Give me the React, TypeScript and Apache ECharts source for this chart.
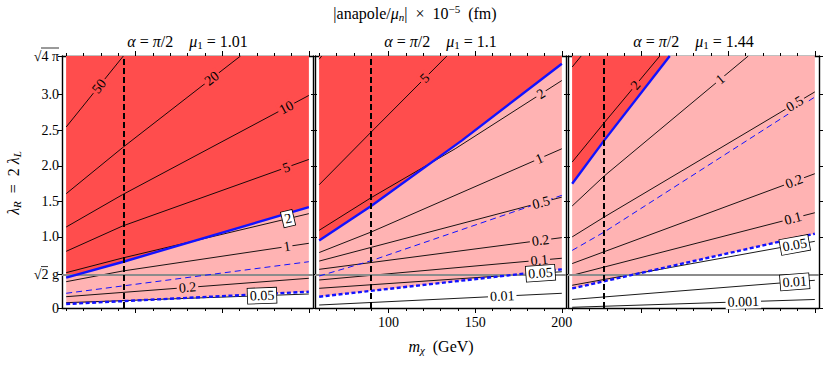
import React, { useEffect, useRef } from 'react';
import * as echarts from 'echarts';

type Pt = [number, number];

const SERIF = "'Liberation Serif', 'Times New Roman', 'DejaVu Serif', serif";
const RED = '#ff4d4d';
const PINK = '#ffb3b3';
const BLUE = '#1212ff';
const GRAY = '#8c8c8c';

// ---- axes ----
const X_MIN = 57.6;
const X_MAX = 202.4;
const Y_MAX = Math.sqrt(4 * Math.PI);
const G_LINE = 0.47; // sqrt(2) g
const xMinorTicks = [60, 70, 80, 90, 100, 110, 120, 130, 140, 150, 160, 170, 180, 190, 200];
const xMajorTicks = [100, 150, 200];
const yTicks = [0, G_LINE, 1, 1.5, 2, 2.5, 3, Y_MAX];
const yTickLabels = ['0', '√2 g', '1.0', '1.5', '2.0', '2.5', '3.0', '√4 π'];

const muValues = ['1.01', '1.1', '1.44'];
const dashedX = [93, 90, 78.5];

// ---- panel 1 (mu1 = 1.01) ----
const p1_c50: Pt[] = [[60, 2.546], [93, 3.545]];
const p1_c20: Pt[] = [[60, 1.608], [92.5, 2.255], [160.6, 3.545]];
const p1_c10: Pt[] = [[60, 1.139], [92.5, 1.594], [200, 2.99]];
const p1_c5: Pt[] = [[60, 0.797], [92.5, 1.153], [200, 2.09]];
const p1_c2: Pt[] = [[60, 0.497], [92.5, 0.703], [200, 1.327]];
const p1_c1: Pt[] = [[60, 0.37], [92.5, 0.52], [200, 0.91]];
const p1_c02: Pt[] = [[60, 0.159], [200, 0.418]];
const p1_c005: Pt[] = [[60, 0.075], [200, 0.197]];
const p1_blue: Pt[] = [[60, 0.426], [92.5, 0.647], [200, 1.42]];
const p1_bdash: Pt[] = [[60, 0.207], [200, 0.651]];
const p1_bdot: Pt[] = [[60, 0.056], [200, 0.229]];

// ---- panel 2 (mu1 = 1.1) ----
const p2_c10: Pt[] = [[60, 3.5], [61.5, 3.545]];
const p2_c5: Pt[] = [[60, 1.734], [90, 2.475], [133.7, 3.545]];
const p2_c2: Pt[] = [[60, 1.093], [90, 1.552], [138.5, 2.24], [200, 3.2]];
const p2_c1: Pt[] = [[60, 0.78], [90, 1.069], [200, 2.24]];
const p2_c05: Pt[] = [[60, 0.66], [200, 1.56]];
const p2_c02: Pt[] = [[60, 0.544], [200, 0.99]];
const p2_c01: Pt[] = [[60, 0.394], [200, 0.7]];
const p2_c005: Pt[] = [[60, 0.277], [200, 0.51]];
const p2_c001: Pt[] = [[60, 0.042], [200, 0.207]];
const p2_blue: Pt[] = [[60, 0.95], [90, 1.435], [142.4, 2.358], [200, 3.436]];
const p2_bdash: Pt[] = [[60, 0.45], [90, 0.665], [200, 1.585]];
const p2_bdot: Pt[] = [[60, 0.159], [200, 0.544]];

// ---- panel 3 (mu1 = 1.44) ----
const p3_c5: Pt[] = [[60, 3.39], [65.2, 3.545]];
const p3_c2: Pt[] = [[60, 2.053], [78.5, 2.606], [110.6, 3.545]];
const p3_c1: Pt[] = [[60, 1.435], [78.5, 1.857], [161.6, 3.545]];
const p3_c05: Pt[] = [[60, 1.0], [78.5, 1.28], [200, 3.04]];
const p3_c02: Pt[] = [[60, 0.625], [200, 1.889]];
const p3_c01: Pt[] = [[60, 0.46], [200, 1.34]];
const p3_c005: Pt[] = [[60, 0.32], [200, 0.938]];
const p3_c001: Pt[] = [[60, 0.12], [200, 0.39]];
const p3_c0001: Pt[] = [[60, 0.01], [200, 0.12]];
const p3_blue: Pt[] = [[60, 1.748], [78.5, 2.358], [116.3, 3.545]];
const p3_bdash: Pt[] = [[60, 0.81], [78.5, 1.069], [200, 2.968]];
const p3_bdot: Pt[] = [[60, 0.275], [200, 1.045]];

// contour label: [x, text, contour, boxed]
type Lab = [number, string, Pt[], boolean];
const p1_labels: Lab[] = [
  [79, '50', p1_c50, false], [144, '20', p1_c20, false], [187, '10', p1_c10, false],
  [187, '5', p1_c5, false], [188, '2', p1_c2, true], [187.4, '1', p1_c1, false],
  [130, '0.2', p1_c02, false], [173, '0.05', p1_c005, true],
];
const p2_labels: Lab[] = [
  [121, '5', p2_c5, false], [188, '2', p2_c2, false], [187, '1', p2_c1, false],
  [188, '0.5', p2_c05, false], [187.7, '0.2', p2_c02, false], [187, '0.1', p2_c01, false],
  [187.7, '0.05', p2_c005, true], [165.6, '0.01', p2_c001, false],
];
const p3_labels: Lab[] = [
  [96.6, '2', p3_c2, false], [145.4, '1', p3_c1, false], [188.4, '0.5', p3_c05, false],
  [188, '0.2', p3_c02, false], [187.4, '0.1', p3_c01, false], [188.4, '0.05', p3_c005, true],
  [188.4, '0.01', p3_c001, true], [158.7, '0.001', p3_c0001, false],
];

const panels = [
  { black: [p1_c50, p1_c20, p1_c10, p1_c5, p1_c2, p1_c1, p1_c02, p1_c005], blue: p1_blue, bdash: p1_bdash, bdot: p1_bdot, labels: p1_labels },
  { black: [p2_c10, p2_c5, p2_c2, p2_c1, p2_c05, p2_c02, p2_c01, p2_c005, p2_c001], blue: p2_blue, bdash: p2_bdash, bdot: p2_bdot, labels: p2_labels },
  { black: [p3_c5, p3_c2, p3_c1, p3_c05, p3_c02, p3_c01, p3_c005, p3_c001, p3_c0001], blue: p3_blue, bdash: p3_bdash, bdot: p3_bdot, labels: p3_labels },
];

// ---- layout ----
const GRID_LEFTS = [62, 315, 568];
const GRID_TOP = 56;
const GRID_W = 251;
const GRID_H = 252;
const PX_X = GRID_W / (X_MAX - X_MIN);
const PX_Y = GRID_H / Y_MAX;

function segAt(line: Pt[], x: number): [Pt, Pt] | null {
  for (let k = 0; k < line.length - 1; k++) {
    if (x >= line[k][0] && x <= line[k + 1][0]) return [line[k], line[k + 1]];
  }
  return null;
}
function interp(line: Pt[], x: number): number | null {
  const s = segAt(line, x);
  if (!s) return null;
  const [[x0, y0], [x1, y1]] = s;
  return y0 + ((y1 - y0) * (x - x0)) / (x1 - x0);
}
function angleAt(line: Pt[], x: number): number {
  const s = segAt(line, x);
  if (!s) return 0;
  const [[x0, y0], [x1, y1]] = s;
  const slope = (y1 - y0) / (x1 - x0);
  return (Math.atan((slope * PX_Y) / PX_X) * 180) / Math.PI;
}

const richBase = (size: number) => ({
  i: { fontFamily: SERIF, fontSize: size, fontStyle: 'italic', fill: '#000' },
  sub: { fontFamily: SERIF, fontSize: size - 5, padding: [8, 0, 0, 0], fill: '#000' },
  si: { fontFamily: SERIF, fontSize: size - 5, fontStyle: 'italic', padding: [8, 0, 0, 0], fill: '#000' },
  sup: { fontFamily: SERIF, fontSize: size - 5, padding: [0, 0, 8, 0], fill: '#000' },
});

const SP = '\u00A0';
const EN = '\u2002';

function buildOption(): any {
  const grid: any[] = [];
  const xAxis: any[] = [];
  const yAxis: any[] = [];
  const series: any[] = [];
  const axisLine = { show: true, lineStyle: { color: '#000', width: 1.4 } };
  const tickLine = { color: '#000', width: 1 };

  panels.forEach((p, i) => {
    grid.push({ left: GRID_LEFTS[i], top: GRID_TOP, width: GRID_W, height: GRID_H, containLabel: false });
    const baseX = { gridIndex: i, type: 'value', min: X_MIN, max: X_MAX, splitLine: { show: false } };
    xAxis.push({ ...baseX, position: 'bottom', axisLine, axisTick: { show: true, length: 3, customValues: xMinorTicks, lineStyle: tickLine }, axisLabel: { show: false } });
    xAxis.push({
      ...baseX, position: 'bottom', axisLine: { show: false },
      axisTick: { show: true, length: 5, customValues: xMajorTicks, lineStyle: tickLine },
      axisLabel: { show: i === 1, customValues: xMajorTicks, fontFamily: SERIF, fontSize: 14, color: '#000', margin: 7 },
    });
    xAxis.push({ ...baseX, position: 'top', axisLine, axisTick: { show: true, length: 3, customValues: xMinorTicks, lineStyle: tickLine }, axisLabel: { show: false } });
    xAxis.push({ ...baseX, position: 'top', axisLine: { show: false }, axisTick: { show: true, length: 5, customValues: xMajorTicks, lineStyle: tickLine }, axisLabel: { show: false } });

    const baseY = { gridIndex: i, type: 'value', min: 0, max: Y_MAX, splitLine: { show: false }, axisLine };
    yAxis.push({
      ...baseY, position: 'left',
      axisTick: { show: true, length: 4, customValues: yTicks, lineStyle: tickLine },
      axisLabel: {
        show: i === 0, customValues: yTicks, fontFamily: SERIF, fontSize: 14, color: '#000', margin: 3,
        formatter: (v: number) => {
          const k = yTicks.findIndex((t) => Math.abs(t - v) < 1e-6);
          return k >= 0 ? yTickLabels[k] : '';
        },
      },
    });
    yAxis.push({ ...baseY, position: 'right', axisTick: { show: true, length: 4, customValues: yTicks, lineStyle: tickLine }, axisLabel: { show: false } });

    const xi = 4 * i;
    const yi = 2 * i;
    const common = { xAxisIndex: xi, yAxisIndex: yi, showSymbol: false, symbol: 'none', silent: true, animation: false };

    // fills
    series.push({ ...common, type: 'line', data: p.bdot, z: 1, lineStyle: { width: 0, opacity: 0 }, areaStyle: { color: PINK, opacity: 1, origin: 'end' } });
    series.push({ ...common, type: 'line', data: p.blue, z: 1, lineStyle: { width: 0, opacity: 0 }, areaStyle: { color: RED, opacity: 1, origin: 'end' } });

    // black contours
    p.black.forEach((line) => {
      series.push({ ...common, type: 'line', data: line, z: 2, lineStyle: { color: '#000', width: 0.9 } });
    });

    // gray sqrt(2) g line
    series.push({
      ...common, type: 'line', data: [], z: 3,
      markLine: { silent: true, symbol: ['none', 'none'], z: 3, label: { show: false }, animation: false,
        data: [{ yAxis: G_LINE, lineStyle: { color: GRAY, width: 2, type: 'solid' } }] },
    });

    // blue lines
    series.push({ ...common, type: 'line', data: p.bdash, z: 4, lineStyle: { color: BLUE, width: 1, type: [6, 4] } });
    series.push({ ...common, type: 'line', data: p.bdot, z: 4, lineStyle: { color: BLUE, width: 2.4, type: [4, 2.5] } });
    series.push({ ...common, type: 'line', data: p.blue, z: 4, lineStyle: { color: BLUE, width: 2.4 } });

    // dashed vertical
    series.push({
      ...common, type: 'line', data: [], z: 5,
      markLine: { silent: true, symbol: ['none', 'none'], z: 5, label: { show: false }, animation: false,
        data: [{ xAxis: dashedX[i], lineStyle: { color: '#000', width: 2, type: [6, 3] } }] },
    });

    // contour labels
    const labData = p.labels.map(([x, text, line, boxed]) => {
      const v = interp(line, x) as number;
      const bv = interp(p.blue, x);
      const dv = interp(p.bdot, x);
      let bg = '#ffffff';
      if (bv !== null && v > bv) bg = RED;
      else if (dv !== null && v > dv) bg = PINK;
      return {
        value: [x, v],
        label: {
          show: true, formatter: text, rotate: angleAt(line, x), position: 'inside',
          fontFamily: SERIF, fontSize: 14, color: '#000', opacity: 1,
          backgroundColor: boxed ? '#ffffff' : bg,
          borderColor: boxed ? '#000' : bg, borderWidth: boxed ? 0.8 : 0,
          padding: boxed ? [1, 2, 0, 2] : [0, 2, 0, 2],
        },
      };
    });
    series.push({
      type: 'scatter', xAxisIndex: xi, yAxisIndex: yi, z: 6, silent: true, symbolSize: 1,
      itemStyle: { color: 'rgba(0,0,0,0)' }, data: labData, animation: false,
      labelLayout: { hideOverlap: false },
    });
  });

  const texts: any[] = [];
  const big = 16;
  // main title
  texts.push({
    type: 'text', x: 415, y: 13, z: 10,
    style: { text: `|anapole/{i|μ}{si|n}|${EN}×${EN}10{sup|−5}${EN}(fm)`, fontFamily: SERIF, fontSize: big, fill: '#000', align: 'center', verticalAlign: 'middle', rich: richBase(big) },
  });
  // subtitles
  muValues.forEach((mu, i) => {
    texts.push({
      type: 'text', x: GRID_LEFTS[i] + GRID_W / 2, y: 41, z: 10,
      style: { text: `{i|α}${SP}=${SP}{i|π}/2${EN}${EN}{i|μ}{sub|1}${SP}=${SP}${mu}`, fontFamily: SERIF, fontSize: big, fill: '#000', align: 'center', verticalAlign: 'middle', rich: richBase(big) },
    });
  });
  // x axis name
  texts.push({
    type: 'text', x: 441, y: 346, z: 10,
    style: { text: `{i|m}{si|χ}${EN}(GeV)`, fontFamily: SERIF, fontSize: big, fill: '#000', align: 'center', verticalAlign: 'middle', rich: richBase(big) },
  });
  // y axis name
  texts.push({
    type: 'text', x: 13, y: 183, rotation: Math.PI / 2, z: 10,
    style: { text: `{i|λ}{si|R}${EN}=${EN}2${SP}{i|λ}{si|L}`, fontFamily: SERIF, fontSize: big, fill: '#000', align: 'center', verticalAlign: 'middle', rich: richBase(big) },
  });
  // radical overlines on tick labels
  const yTop = GRID_TOP;
  const yG = GRID_TOP + GRID_H - G_LINE * PX_Y;
  texts.push({ type: 'line', z: 10, shape: { x1: 41, y1: yTop - 8, x2: 59, y2: yTop - 8 }, style: { stroke: '#000', lineWidth: 0.8 } });
  texts.push({ type: 'line', z: 10, shape: { x1: 41, y1: yG - 8, x2: 48, y2: yG - 8 }, style: { stroke: '#000', lineWidth: 0.8 } });

  return { animation: false, backgroundColor: '#ffffff', grid, xAxis, yAxis, series, graphic: texts };
}

export default function App() {
  const ref = useRef<HTMLDivElement>(null);
  useEffect(() => {
    const chart = echarts.init(ref.current as HTMLDivElement, null, { renderer: 'svg' });
    chart.setOption(buildOption());
    return () => chart.dispose();
  }, []);
  return <div ref={ref} style={{ position: 'absolute', left: 0, top: 0, width: 830, height: 366 }} />;
}
